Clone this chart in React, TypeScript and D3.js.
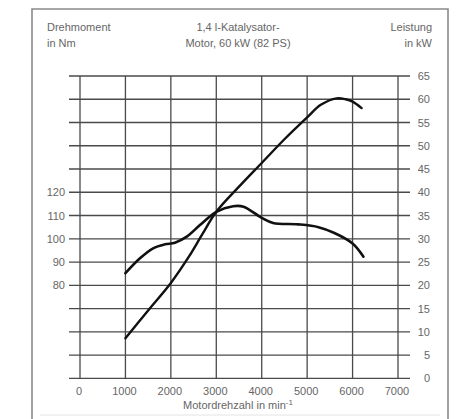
import React from 'react';
import * as d3 from 'd3';

// Leistung (kW) over rpm
const powerRpm = [1000, 1500, 2000, 2400, 2700, 3000, 3500, 4000, 4500, 5000, 5300, 5650, 5850, 6000, 6200];
const powerKw = [8.6, 14.6, 20.5, 26.2, 31.1, 35.8, 41.2, 46.3, 51.4, 56.1, 58.8, 60.2, 60.0, 59.5, 58.1];

// Drehmoment (Nm) over rpm
const torqueRpm = [1000, 1320, 1610, 1870, 2090, 2350, 2640, 3000, 3370, 3600, 4000, 4250, 4800, 5250, 5600, 6000, 6240];
const torqueNm = [85.2, 91.6, 95.9, 97.6, 98.3, 100.9, 105.9, 111.6, 114, 113.8, 109, 106.8, 106.2, 105, 102.5, 98, 92.3];

const rpmTicks = [0, 1000, 2000, 3000, 4000, 5000, 6000, 7000];
const kwTicks = [0, 5, 10, 15, 20, 25, 30, 35, 40, 45, 50, 55, 60, 65];
const nmTicks = [80, 90, 100, 110, 120];

const font = '"Liberation Sans", Arial, sans-serif';
const textColor = '#666';
const gridColor = '#4a4a4a';

const App: React.FC = () => {
  const x = d3.scaleLinear().domain([0, 7000]).range([80, 398]);
  const yKw = d3.scaleLinear().domain([0, 65]).range([378.3, 76]);
  // 120 Nm sits on 40 kW, 80 Nm on 20 kW
  const yNm = d3.scaleLinear().domain([40, 170]).range([378.3, 76]);

  const powerLine = d3
    .line<number>()
    .x((d, i) => x(powerRpm[i]))
    .y((d) => yKw(d))
    .curve(d3.curveCatmullRom.alpha(0.5));

  const torqueLine = d3
    .line<number>()
    .x((d, i) => x(torqueRpm[i]))
    .y((d) => yNm(d))
    .curve(d3.curveCatmullRom.alpha(0.5));

  return (
    <svg
      width={464}
      height={419}
      style={{ position: 'absolute', left: 0, top: 0, background: '#fff' }}
      fontFamily={font}
    >
      {/* frame */}
      <path d="M32,419 V9 H448 V419" fill="none" stroke="#8a8a8a" strokeWidth={1.6} />
      <line x1={40} x2={440} y1={415} y2={415} stroke="#e4e4e4" strokeWidth={1} />

      {/* header */}
      <g fontSize={11} fill={textColor}>
        <text x={47} y={31}>Drehmoment</text>
        <text x={47} y={47}>in Nm</text>
        <text x={238} y={31} textAnchor="middle">1,4 l-Katalysator-</text>
        <text x={238} y={47} textAnchor="middle">Motor, 60 kW (82 PS)</text>
        <text x={432} y={31} textAnchor="end">Leistung</text>
        <text x={432} y={47} textAnchor="end">in kW</text>
      </g>

      {/* grid */}
      <g stroke={gridColor} strokeWidth={1.3}>
        {kwTicks.map((t) => (
          <line key={'h' + t} x1={69} x2={410} y1={yKw(t)} y2={yKw(t)} />
        ))}
        {rpmTicks.map((t) => (
          <line key={'v' + t} x1={x(t)} x2={x(t)} y1={yKw(65)} y2={yKw(0)} />
        ))}
      </g>

      {/* right axis labels */}
      <g fontSize={11} fill={textColor} textAnchor="end">
        {kwTicks.map((t) => (
          <text key={'k' + t} x={430} y={yKw(t) + 4}>
            {t}
          </text>
        ))}
      </g>

      {/* left axis labels */}
      <g fontSize={11} fill={textColor} textAnchor="end">
        {nmTicks.map((t) => (
          <text key={'n' + t} x={65} y={yNm(t) + 4}>
            {t}
          </text>
        ))}
      </g>

      {/* x axis labels */}
      <g fontSize={11} fill={textColor} textAnchor="middle">
        {rpmTicks.map((t) => (
          <text key={'r' + t} x={x(t) - 1} y={395}>
            {t}
          </text>
        ))}
        <text x={238} y={409}>
          Motordrehzahl in min
          <tspan fontSize={8} dy={-4}>-1</tspan>
        </text>
      </g>

      {/* curves */}
      <path d={torqueLine(torqueNm) || ''} fill="none" stroke="#111" strokeWidth={2.6} strokeLinecap="round" />
      <path d={powerLine(powerKw) || ''} fill="none" stroke="#111" strokeWidth={2.4} strokeLinecap="round" />
    </svg>
  );
};

export default App;
